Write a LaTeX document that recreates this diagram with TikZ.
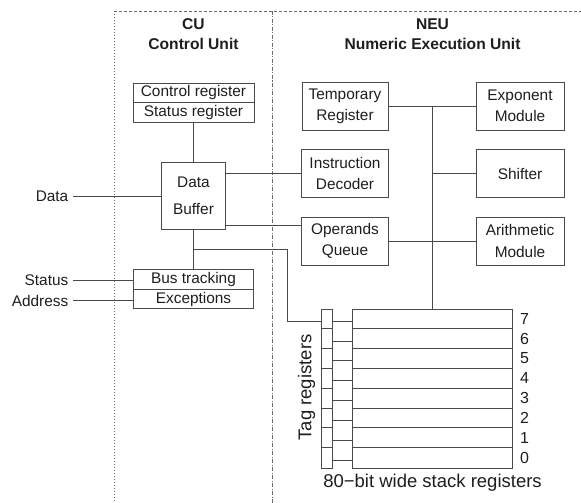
\documentclass[tikz,border=0pt]{standalone}
\usepackage{fontspec}
\setmainfont{Liberation Sans}
\usetikzlibrary{calc}
\definecolor{linec}{HTML}{4A4A4A}
\definecolor{textc}{HTML}{1E1E1E}
\definecolor{bordc}{HTML}{6A6A6A}
\tikzset{
  boxst/.style={draw=linec, line width=0.9pt, inner sep=0pt, align=center, text=textc,
    font=\fontsize{15.4}{21.3}\selectfont},
  lbl/.style={inner sep=0pt, text=textc, font=\fontsize{15.4}{18}\selectfont},
  head/.style={inner sep=0pt, text=textc, font=\fontsize{15.6}{18}\selectfont\bfseries},
  conn/.style={draw=linec, line width=0.9pt},
  bigl/.style={inner sep=0pt, text=textc, font=\fontsize{18.5}{22}\selectfont},
  numl/.style={inner sep=0pt, text=textc, font=\fontsize{16}{18}\selectfont},
}
\begin{document}
\begin{tikzpicture}[x=1pt,y=-1pt]
\useasboundingbox (0,0) rectangle (581,503);
% region borders
\draw[bordc, line width=0.8pt, dash pattern=on 1.2pt off 1.8pt] (114,11) -- (114,503);
\draw[bordc, line width=0.8pt, dash pattern=on 2.5pt off 2.5pt] (114,11) -- (581,11);
\draw[bordc, line width=0.8pt, dash pattern=on 4pt off 1.5pt on 1pt off 1.5pt] (272.7,11) -- (272.7,503);
% headers
\node[head] (cu) at (193.5,24) {CU};
\node[head] (cul) at (193.5,44) {Control Unit};
\node[head] (neu) at (432.5,24) {NEU};
\node[head] (neul) at (432.5,44) {Numeric Execution Unit};
% CU boxes
\node[boxst, minimum width=121pt, minimum height=19.5pt] (ctrl) at (193.5,92.75) {Control register};
\node[boxst, minimum width=121pt, minimum height=19.5pt] (stat) at (193.5,112.25) {Status register};
\node[boxst, minimum width=64pt, minimum height=67pt, font=\fontsize{15.4}{27.4}\selectfont] (buf) at (193.5,195.5) {Data\\Buffer};
\node[boxst, minimum width=120pt, minimum height=20pt] (bus) at (193.5,279.3) {Bus tracking};
\node[boxst, minimum width=120pt, minimum height=19.5pt] (exc) at (193.5,299.05) {Exceptions};
% labels left
\node[lbl, anchor=east] (datal) at (68.5,196.5) {Data};
\node[lbl, anchor=east] (statl) at (68.5,280.5) {Status};
\node[lbl, anchor=east] (addrl) at (68.5,300.5) {Address};
% NEU boxes
\node[boxst, minimum width=86pt, minimum height=48pt] (temp) at (345,106) {Temporary\\Register};
\node[boxst, minimum width=87pt, minimum height=48pt] (idec) at (345,173.5) {Instruction\\Decoder};
\node[boxst, minimum width=87pt, minimum height=48pt] (opq) at (345,241) {Operands\\Queue};
\node[boxst, minimum width=88pt, minimum height=48pt] (expo) at (520,106) {Exponent\\Module};
\node[boxst, minimum width=88pt, minimum height=48pt] (shift) at (520,173.5) {Shifter};
\node[boxst, minimum width=88pt, minimum height=48pt] (arith) at (520,241) {Arithmetic\\Module};
% stack
\node[boxst, minimum width=159.3pt, minimum height=158.7pt] (stack) at (432.35,388.65) {};
\node[boxst, minimum width=11.7pt, minimum height=158.7pt] (tag) at (326.85,388.65) {};
\foreach \i in {1,...,7} {
  \draw[conn] ($(tag.north west)+(0,19.84*\i)$) -- ($(tag.north east)+(0,19.84*\i)$);
  \draw[conn] ($(stack.north west)+(0,19.84*\i)$) -- ($(stack.north east)+(0,19.84*\i)$);
}
\foreach \i in {0,...,7} {
  \draw[conn] ($(tag.north east)+(0,12.4+19.84*\i)$) -- ($(stack.north west)+(0,12.4+19.84*\i)$);
  \pgfmathtruncatemacro{\n}{7-\i}
  \node[numl] (num\n) at ($(stack.north east)+(12,9.92+19.84*\i)$) {\n};
}
\node[bigl, rotate=90] (tagl) at (306.7,387.5) {Tag registers};
\node[bigl] (stackl) at (432.5,482.7) {80\symbol{"2212}bit wide stack registers};
% connectors
\draw[conn] (stat.south) -- (buf.north);
\draw[conn] (buf.south) -- (bus.north);
\draw[conn] ([xshift=4.5pt]datal.east) -- (datal.east -| buf.west);
\draw[conn] ([xshift=4.5pt]statl.east) -- (statl.east -| bus.west);
\draw[conn] ([xshift=4.5pt]addrl.east) -- (addrl.east -| exc.west);
\draw[conn] (buf.east |- idec.west) -- (idec.west);
\coordinate (b2) at (buf.east |- 0,225);
\draw[conn] (b2) -- (b2 -| opq.west);
\coordinate (br) at (buf.south |- 0,249);
\coordinate (tagin) at (tag.west |- 0,321.7);
\draw[conn] (br) -- (287.7,249) -- (287.7,321.7) -- (tagin);
\draw[conn] (temp.east) -- (expo.west);
\draw[conn] (stack.north) -- (stack.north |- temp.east);
\draw[conn] (shift.west) -- (shift.west -| stack.north);
\draw[conn] (opq.east) -- (arith.west);
\end{tikzpicture}
\end{document}
